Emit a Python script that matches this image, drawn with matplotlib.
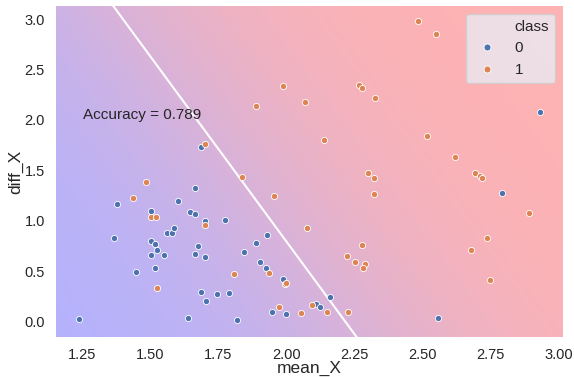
import numpy as np
import matplotlib
matplotlib.use("Agg")
import matplotlib.pyplot as plt
from matplotlib.lines import Line2D
import seaborn as sns

# class 0 points (mean_X, diff_X)
x0 = [1.238, 1.366, 1.376, 1.446, 1.501, 1.501, 1.516, 1.526, 1.501, 1.516,
      1.550, 1.560, 1.581, 1.585, 1.600, 1.646, 1.665, 1.665, 1.700, 1.675,
      1.665, 1.700, 1.775, 1.844, 1.888, 1.928, 1.903, 1.923, 1.988, 1.685,
      1.705, 1.745, 1.789, 1.640, 1.819, 1.948, 1.998, 2.793, 2.555, 2.108,
      2.122, 2.158, 2.931, 1.685]
y0 = [0.030, 0.829, 1.171, 0.490, 1.099, 0.800, 0.770, 0.711, 0.658, 0.530,
      0.658, 0.879, 0.879, 0.928, 1.198, 1.089, 1.069, 1.329, 1.000, 0.747,
      0.668, 0.638, 1.010, 0.688, 0.780, 0.859, 0.589, 0.530, 0.418, 0.290,
      0.207, 0.270, 0.280, 0.036, 0.016, 0.099, 0.079, 1.280, 0.039, 0.178,
      0.148, 0.240, 2.080, 1.731]

# class 1 points
x1 = [1.485, 1.436, 1.501, 1.521, 1.700, 1.836, 1.953, 1.809, 1.934, 1.526,
      1.993, 1.998, 1.973, 2.053, 2.077, 2.300, 2.321, 2.321, 2.276, 2.222,
      2.251, 2.290, 2.280, 2.092, 2.147, 2.225, 2.694, 2.712, 2.718, 2.892,
      2.738, 2.678, 2.747, 2.484, 2.549, 2.266, 2.277, 2.325, 2.067, 2.137,
      2.515, 2.619, 1.988, 1.887, 1.700]
y1 = [1.389, 1.227, 1.040, 1.040, 0.958, 1.431, 1.250, 0.477, 0.487, 0.329,
      0.372, 0.382, 0.148, 0.086, 0.928, 1.471, 1.428, 1.270, 0.757, 0.648,
      0.589, 0.569, 0.530, 0.168, 0.099, 0.099, 1.478, 1.444, 1.428, 1.079,
      0.829, 0.711, 0.408, 2.981, 2.850, 2.343, 2.320, 2.221, 2.182, 1.800,
      1.840, 1.632, 2.340, 2.142, 1.760]

# fitted boundary: w1*x + w2*y + b = 0
w1, w2, b = 3.0, 3.0 / 3.672, -3.0 * 2.216
accuracy = 0.789

sns.set_theme(style="dark")
plt.rcParams["font.family"] = ["Liberation Sans", "DejaVu Sans"]

fig = plt.figure(figsize=(5.74, 3.77), dpi=100)
ax = fig.add_axes([56 / 574, 40 / 377, 507 / 574, 331 / 377])

xs = np.array(x0 + x1)
ys = np.array(y0 + y1)
xpad = (xs.max() - xs.min()) * 0.05
ypad = (ys.max() - ys.min()) * 0.05
xlim = (xs.min() - xpad, xs.max() + xpad)
ylim = (ys.min() - ypad - 0.02, ys.max() + ypad)

# probability background
gx, gy = np.meshgrid(np.linspace(*xlim, 300), np.linspace(*ylim, 200))
p = 1 / (1 + np.exp(-(w1 * gx + w2 * gy + b)))
blue = np.array([0, 0, 1.0])
red = np.array([1.0, 0, 0])
rgb = 0.7 + 0.3 * (p[..., None] * red + (1 - p[..., None]) * blue)
ax.imshow(rgb, extent=(*xlim, *ylim), origin="lower", aspect="auto", zorder=0)

lx = np.array(xlim)
ax.plot(lx, -(w1 * lx + b) / w2, color="white", lw=1.5, zorder=1)

ax.scatter(x0, y0, s=20, color="#4C72B0", edgecolor="white", linewidth=0.6, zorder=2)
ax.scatter(x1, y1, s=20, color="#DD8452", edgecolor="white", linewidth=0.6, zorder=2)

ax.text(1.254, 2.05, f"Accuracy = {accuracy}", fontsize=11, color="#262626", va="center")

ax.set_xlim(xlim)
ax.set_ylim(ylim)
ax.set_xticks([1.25, 1.5, 1.75, 2.0, 2.25, 2.5, 2.75, 3.0])
ax.tick_params(labelsize=10.5, pad=2)
ax.set_xlabel("mean_X", fontsize=12.5)
ax.set_ylabel("diff_X", fontsize=12.5)
ax.xaxis.label.set_va("bottom")
ax.xaxis.set_label_coords(0.5, -0.118)
ax.yaxis.set_label_coords(-0.08, 0.5)
ax.yaxis.label.set_va("center")
for s in ax.spines.values():
    s.set_visible(False)

# old-style seaborn legend: title as a blank entry
handles = [Line2D([], [], linestyle="", marker=None),
           Line2D([], [], linestyle="", marker="o", ms=5, color="#4C72B0", mec="white", mew=0.6),
           Line2D([], [], linestyle="", marker="o", ms=5, color="#DD8452", mec="white", mew=0.6)]
ax.legend(handles, ["class", "0", "1"], loc="upper right", fontsize=11)

fig.savefig("out.png", dpi=100)
